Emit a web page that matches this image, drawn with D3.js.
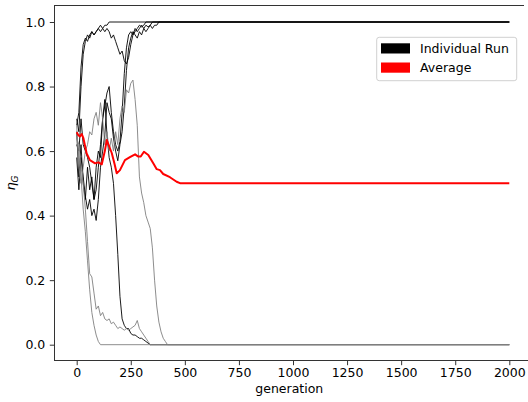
<!DOCTYPE html>
<html>
<head>
<meta charset="utf-8">
<script src="https://cdn.jsdelivr.net/npm/d3@7"></script>
<style>
  body { margin: 0; background: #fff; }
  text { font-family: "DejaVu Sans", sans-serif; fill: #000; }
</style>
</head>
<body>
<div id="chart"></div>
<script>
// data
const STEP = 10;          // generations between samples of a run
const LAST_GEN = 2000;

// runs that end at 1.0 (drawn black)
const runA = [0.68, 0.72, 0.86, 0.93, 0.95, 0.94, 0.96, 0.97, 0.96, 0.97, 0.98, 0.97, 0.98, 0.99, 0.99, 1.0];
const runB = [0.70, 0.66, 0.80, 0.90, 0.94, 0.96, 0.95, 0.97, 0.96, 0.97, 0.98, 0.99, 0.98, 0.97, 0.98, 0.97,
              0.95, 0.96, 0.94, 0.92, 0.90, 0.91, 0.88, 0.87, 0.89, 0.93, 0.96, 0.97, 0.98, 0.99, 0.985, 0.99, 1.0];
const runC = [0.62, 0.60, 0.70, 0.62, 0.60, 0.58, 0.55, 0.50, 0.45, 0.48, 0.55, 0.62, 0.70, 0.74, 0.78, 0.80,
              0.72, 0.66, 0.62, 0.60, 0.63, 0.72, 0.84, 0.92, 0.96, 0.97, 0.96, 0.98, 0.97, 0.98, 0.99, 0.98,
              0.99, 0.985, 0.99, 1.0];
const runD = [0.58, 0.48, 0.58, 0.52, 0.46, 0.42, 0.45, 0.40, 0.42, 0.385, 0.45, 0.55, 0.60, 0.65, 0.75, 0.72,
              0.70, 0.64, 0.60, 0.57, 0.62, 0.66, 0.74, 0.85, 0.92, 0.95, 0.97, 0.96, 0.95, 0.97, 0.96, 0.98,
              0.97, 0.98, 0.99, 0.98, 0.99, 0.99, 1.0];
// runs that end at 0.0
const runE = [0.66, 0.52, 0.62, 0.50, 0.45, 0.55, 0.48, 0.52, 0.45, 0.55, 0.60, 0.58, 0.70, 0.76, 0.65, 0.58,
              0.55, 0.50, 0.40, 0.28, 0.15, 0.08, 0.06, 0.05, 0.05, 0.035, 0.03, 0.03, 0.025, 0.02, 0.02, 0.015,
              0.01, 0.005, 0.0];
const runF = [0.66, 0.58, 0.52, 0.42, 0.35, 0.26, 0.17, 0.10, 0.06, 0.03, 0.01, 0.0];
const runG = [0.64, 0.62, 0.55, 0.50, 0.42, 0.32, 0.22, 0.21, 0.16, 0.11, 0.12, 0.09, 0.10, 0.08, 0.075, 0.08,
              0.065, 0.07, 0.06, 0.05, 0.055, 0.05, 0.045, 0.05, 0.045, 0.05, 0.055, 0.06, 0.075, 0.05, 0.04, 0.03,
              0.02, 0.01, 0.0];
const runH = [0.68, 0.55, 0.50, 0.55, 0.60, 0.62, 0.66, 0.65, 0.70, 0.72, 0.68, 0.75, 0.70, 0.62, 0.66, 0.60,
              0.64, 0.60, 0.66, 0.62, 0.70, 0.74, 0.72, 0.79, 0.78, 0.81, 0.82, 0.76, 0.68, 0.52, 0.47, 0.44,
              0.40, 0.38, 0.36, 0.30, 0.20, 0.12, 0.07, 0.04, 0.02, 0.01, 0.0];

const runs = [runA, runB, runC, runD, runE, runF, runG, runH];
const runColors = ["#000", "#000", "#000", "#000", "#000", "#808080", "#808080", "#808080"];

// average over runs
const avgGens   = [0, 7, 15, 23, 31, 46, 61, 85, 100, 116, 130, 139, 150, 162, 175, 185, 200, 223, 246, 270, 285,
                   296, 311, 331, 354, 370, 385, 400, 431, 462, 480, 2000];
const avgValues = [0.658, 0.65, 0.645, 0.653, 0.640, 0.593, 0.572, 0.562, 0.565, 0.559, 0.600, 0.634, 0.615, 0.594,
                   0.560, 0.531, 0.541, 0.572, 0.581, 0.590, 0.583, 0.583, 0.598, 0.588, 0.562, 0.544, 0.541, 0.529,
                   0.519, 0.505, 0.500, 0.500];

const xTicks = [0, 250, 500, 750, 1000, 1250, 1500, 1750, 2000];
const yTicks = [0.0, 0.2, 0.4, 0.6, 0.8, 1.0];
const legendItems = [
    { label: "Individual Run", color: "#000" },
    { label: "Average", color: "#ff0000" }
];

const WIDTH = 528;
const HEIGHT = 402;
const PLOT = { left: 54.3, right: 524.3, top: 5.3, bottom: 360.7 };

const svg = d3.select("#chart")
    .append("svg")
    .attr("width", WIDTH)
    .attr("height", HEIGHT);

const x = d3.scaleLinear().domain([0, 2000]).range([76.7, 509.3]);
const y = d3.scaleLinear().domain([0, 1]).range([344.7, 22]);

svg.append("defs").append("clipPath")
    .attr("id", "plot-clip")
    .append("rect")
    .attr("x", PLOT.left)
    .attr("y", PLOT.top)
    .attr("width", PLOT.right - PLOT.left)
    .attr("height", PLOT.bottom - PLOT.top);

const plot = svg.append("g").attr("clip-path", "url(#plot-clip)");

const line = d3.line()
    .x(d => x(d[0]))
    .y(d => y(d[1]));

// individual runs
runs.forEach((vals, i) => {
    const pts = vals.map((v, j) => [j * STEP, v]);
    pts.push([LAST_GEN, vals[vals.length - 1]]);
    plot.append("path")
        .datum(pts)
        .attr("fill", "none")
        .attr("stroke", runColors[i])
        .attr("stroke-width", 0.9)
        .attr("stroke-linejoin", "round")
        .attr("d", line);
});

// average
plot.append("path")
    .datum(avgGens.map((g, i) => [g, avgValues[i]]))
    .attr("fill", "none")
    .attr("stroke", "#ff0000")
    .attr("stroke-width", 2)
    .attr("stroke-linejoin", "round")
    .attr("d", line);

// spines (no right spine in the picture)
const spine = svg.append("g")
    .attr("stroke", "#333")
    .attr("stroke-width", 1)
    .attr("shape-rendering", "crispEdges");
spine.append("line").attr("x1", PLOT.left).attr("x2", PLOT.left).attr("y1", PLOT.top).attr("y2", PLOT.bottom);
spine.append("line").attr("x1", PLOT.left).attr("x2", PLOT.right).attr("y1", PLOT.top).attr("y2", PLOT.top);
spine.append("line").attr("x1", PLOT.left).attr("x2", WIDTH).attr("y1", PLOT.bottom).attr("y2", PLOT.bottom);

// x axis
const xAxis = d3.axisBottom(x)
    .tickValues(xTicks)
    .tickSize(4.5)
    .tickPadding(3)
    .tickFormat(d3.format("d"));
const gx = svg.append("g")
    .attr("transform", `translate(0,${PLOT.bottom})`)
    .call(xAxis);
gx.select(".domain").remove();
gx.selectAll(".tick line").attr("stroke", "#333");
gx.selectAll(".tick text").attr("font-size", 12.5).attr("font-family", "DejaVu Sans");

// y axis
const yAxis = d3.axisLeft(y)
    .tickValues(yTicks)
    .tickSize(4.5)
    .tickPadding(4.5)
    .tickFormat(d3.format(".1f"));
const gy = svg.append("g")
    .attr("transform", `translate(${PLOT.left},0)`)
    .call(yAxis);
gy.select(".domain").remove();
gy.selectAll(".tick line").attr("stroke", "#333");
gy.selectAll(".tick text").attr("font-size", 12.5).attr("font-family", "DejaVu Sans");

// axis labels
svg.append("text")
    .attr("x", (PLOT.left + PLOT.right) / 2)
    .attr("y", 393)
    .attr("text-anchor", "middle")
    .attr("font-size", 12.5)
    .text("generation");

const yl = svg.append("text")
    .attr("transform", `translate(15,${(PLOT.top + PLOT.bottom) / 2}) rotate(-90)`)
    .attr("text-anchor", "middle")
    .attr("font-size", 13);
yl.append("tspan").attr("font-style", "italic").text("η");
yl.append("tspan").attr("font-style", "italic")
    .attr("font-size", 9).attr("dy", 3).text("G");

// legend
const legend = svg.append("g");
legend.append("rect")
    .attr("x", 376.7)
    .attr("y", 37.3)
    .attr("width", 140)
    .attr("height", 43.4)
    .attr("rx", 2.5)
    .attr("fill", "#fff")
    .attr("fill-opacity", 0.8)
    .attr("stroke", "#d0d0d0")
    .attr("stroke-width", 1);

legendItems.forEach((item, i) => {
    const yy = 43.3 + i * 19.2;
    legend.append("rect")
        .attr("x", 381)
        .attr("y", yy)
        .attr("width", 29)
        .attr("height", 10.2)
        .attr("fill", item.color);
    legend.append("text")
        .attr("x", 420)
        .attr("y", yy + 9.6)
        .attr("font-size", 12.5)
        .text(item.label);
});
</script>
</body>
</html>
